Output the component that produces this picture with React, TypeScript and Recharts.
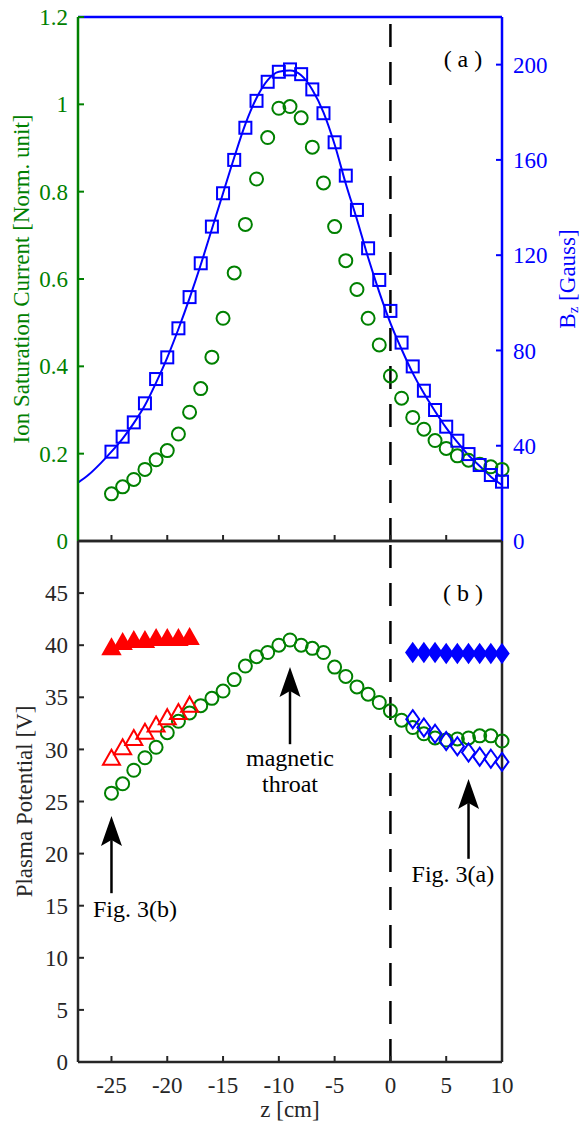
import React from 'react';
import {
  ComposedChart,
  Scatter,
  Line,
  XAxis,
  YAxis,
  ReferenceLine,
  ReferenceDot,
} from 'recharts';

const GREEN = '#008000';
const BLUE = '#0000ff';
const RED = '#ff0000';
const AXIS = '#262626';
const SERIF = '"Liberation Serif", "Times New Roman", serif';
const FONT = 23;
const NOTE_FONT = 24;

// axis ticks
const zTicks = [-25, -20, -15, -10, -5, 0, 5, 10];
const currentTicks = [0, 0.2, 0.4, 0.6, 0.8, 1, 1.2];
const bzTicks = [0, 40, 80, 120, 160, 200];
const potentialTicks = [0, 5, 10, 15, 20, 25, 30, 35, 40, 45];

// probe positions along the axis [cm]
const zProbe = [
  -25, -24, -23, -22, -21, -20, -19, -18, -17, -16, -15, -14, -13, -12, -11, -10, -9, -8,
  -7, -6, -5, -4, -3, -2, -1, 0, 1, 2, 3, 4, 5, 6, 7, 8, 9, 10,
];

// (a) ion saturation current, normalised
const ionCurrent = [
  0.108, 0.124, 0.141, 0.164, 0.186, 0.207, 0.245, 0.295, 0.349, 0.421, 0.51, 0.614,
  0.725, 0.829, 0.924, 0.991, 0.995, 0.969, 0.902, 0.82, 0.72, 0.642, 0.576, 0.51,
  0.449, 0.378, 0.327, 0.283, 0.256, 0.23, 0.212, 0.195, 0.185, 0.176, 0.17, 0.164,
];

// (a) measured Bz [Gauss]
const bzMeasured = [
  37.5, 43.8, 49.8, 57.8, 68, 77.1, 89.3, 102.4, 116.6, 132, 146, 160, 173.5, 184.8,
  192.8, 197, 198, 196, 189.6, 179.6, 167.4, 153.4, 139, 122.9, 109.6, 96.6, 83.3, 73.3,
  63.1, 55, 48, 42.1, 36.5, 31.9, 27.7, 24.9,
];

// (a) computed Bz curve [Gauss]
const zCurve = [
  -28, -27, -26, -25, -24, -23, -22, -21, -20, -19, -18, -17, -16, -15, -14, -13, -12, -11,
  -10, -9, -8, -7, -6, -5, -4, -3, -2, -1, 0, 1, 2, 3, 4, 5, 6, 7, 8, 9, 10,
];
const bzCurve = [
  24.5, 28, 32.5, 37.5, 43, 49.5, 57, 66.5, 77, 89, 102, 116, 131, 146, 161, 175, 186,
  193.5, 197, 197.5, 195.5, 189.5, 180, 166.5, 150, 135, 119, 104.5, 91.5, 80.5, 70.5, 62,
  54.5, 47.5, 41.5, 36, 31.5, 27, 23.5,
];

// (b) plasma potential [V]
const plasmaPotential = [
  25.8, 26.7, 28.0, 29.2, 30.2, 31.6, 32.7, 33.5, 34.2, 34.9, 35.6, 36.7, 38.0, 38.9, 39.3,
  40.0, 40.5, 40.0, 39.7, 39.3, 37.9, 37.0, 36.0, 35.3, 34.5, 33.7, 32.8, 32.1, 31.5, 31.1,
  30.9, 31.0, 31.1, 31.3, 31.3, 30.8,
];

// (b) upstream set, Fig. 3(b)
const zUpstream = [-25, -24, -23, -22, -21, -20, -19, -18];
const upstreamFilled = [39.7, 40.2, 40.4, 40.4, 40.6, 40.6, 40.6, 40.7];
const upstreamHollow = [29.1, 30.1, 31.0, 31.6, 32.3, 33.0, 33.5, 34.2];

// (b) downstream set, Fig. 3(a)
const zDownstream = [2, 3, 4, 5, 6, 7, 8, 9, 10];
const downstreamFilled = [39.3, 39.3, 39.3, 39.2, 39.2, 39.2, 39.2, 39.2, 39.2];
const downstreamHollow = [32.9, 32.1, 31.5, 30.8, 30.3, 29.7, 29.3, 29.1, 28.8];

const pts = (zs: number[], vs: number[]) => zs.map((z, i) => ({ z, v: vs[i] }));

// markers
const HollowCircle = (p: any) => (
  <circle cx={p.cx} cy={p.cy} r={6.5} fill="none" stroke={GREEN} strokeWidth={2} />
);
const HollowSquare = (p: any) => (
  <rect x={p.cx - 6} y={p.cy - 6} width={12} height={12} fill="none" stroke={BLUE} strokeWidth={2} />
);
const triangle = (filled: boolean) => (p: any) => (
  <polygon
    points={`${p.cx},${p.cy - 9} ${p.cx + 8.5},${p.cy + 6} ${p.cx - 8.5},${p.cy + 6}`}
    fill={filled ? RED : 'none'}
    stroke={RED}
    strokeWidth={2}
  />
);
const diamond = (filled: boolean) => (p: any) => (
  <polygon
    points={`${p.cx},${p.cy - 9} ${p.cx + 6.5},${p.cy} ${p.cx},${p.cy + 9} ${p.cx - 6.5},${p.cy}`}
    fill={filled ? BLUE : 'none'}
    stroke={BLUE}
    strokeWidth={2}
  />
);

// arrow from tail (first point) up to tip (second point)
const Arrow = (p: any) => {
  const { x1, y1, x2, y2 } = p;
  const head = 30;
  const half = 10.5;
  const notch = 6;
  return (
    <g>
      <line x1={x1} y1={y1} x2={x2} y2={y2 + head - notch} stroke="#000" strokeWidth={2.5} />
      <polygon
        points={`${x2},${y2} ${x2 + half},${y2 + head} ${x2},${y2 + head - notch} ${x2 - half},${y2 + head}`}
        fill="#000"
      />
    </g>
  );
};

const note = (lines: string[]) => (p: any) => (
  <text x={p.cx} y={p.cy} textAnchor="middle" fontFamily={SERIF} fontSize={NOTE_FONT} fill="#000">
    {lines.map((l, i) => (
      <tspan key={i} x={p.cx} dy={i === 0 ? 0 : 26}>
        {l}
      </tspan>
    ))}
  </text>
);

const sideLabel = (content: React.ReactNode, color: string, dx: number) => (props: any) => {
  const vb = props.viewBox;
  const x = vb.x + dx;
  const y = vb.y + vb.height / 2;
  return (
    <text
      x={x}
      y={y}
      transform={`rotate(-90 ${x} ${y})`}
      textAnchor="middle"
      dominantBaseline="central"
      fontFamily={SERIF}
      fontSize={FONT}
      fill={color}
    >
      {content}
    </text>
  );
};

const bottomLabel = (props: any) => {
  const vb = props.viewBox;
  return (
    <text x={vb.x + vb.width / 2} y={vb.y + 55} textAnchor="middle" fontFamily={SERIF} fontSize={FONT} fill={AXIS}>
      z [cm]
    </text>
  );
};

const blank = () => '';
const tickFont = (color: string) => ({ fill: color, fontSize: FONT, fontFamily: SERIF });
const axisLine = (color: string) => ({ stroke: color, strokeWidth: 2.5 });
const tickLine = (color: string) => ({ stroke: color, strokeWidth: 2 });

export default function App() {
  const ionData = pts(zProbe, ionCurrent);
  const bzData = pts(zProbe, bzMeasured);
  const curveData = pts(zCurve, bzCurve);
  const potentialData = pts(zProbe, plasmaPotential);

  return (
    <div style={{ position: 'absolute', left: 0, top: 0, width: 586, height: 1127, background: '#fff' }}>
      {/* (a) ion saturation current and Bz */}
      <div style={{ position: 'absolute', left: 0, top: 0 }}>
        <ComposedChart width={586} height={560} margin={{ top: 0, right: 4, bottom: 0, left: 8 }}>
          <XAxis
            xAxisId="bottom"
            type="number"
            dataKey="z"
            domain={[-28, 10]}
            ticks={zTicks}
            height={19}
            tickSize={-6}
            tickFormatter={blank}
            axisLine={axisLine(AXIS)}
            tickLine={tickLine(AXIS)}
          />
          <XAxis
            xAxisId="top"
            orientation="top"
            type="number"
            dataKey="z"
            domain={[-28, 10]}
            ticks={zTicks}
            height={17}
            tickSize={-6}
            tickFormatter={blank}
            axisLine={axisLine(BLUE)}
            tickLine={tickLine(BLUE)}
          />
          <YAxis
            yAxisId="I"
            orientation="left"
            type="number"
            domain={[0, 1.2]}
            ticks={currentTicks}
            width={70}
            tickSize={-6}
            tickMargin={16}
            tick={tickFont(GREEN)}
            axisLine={axisLine(GREEN)}
            tickLine={tickLine(GREEN)}
            label={{ content: sideLabel('Ion Saturation Current [Norm. unit]', GREEN, 13) }}
          />
          <YAxis
            yAxisId="B"
            orientation="right"
            type="number"
            domain={[0, 220]}
            ticks={bzTicks}
            width={80}
            tickSize={-6}
            tickMargin={17}
            tick={tickFont(BLUE)}
            axisLine={axisLine(BLUE)}
            tickLine={tickLine(BLUE)}
            label={{
              content: sideLabel(
                <>
                  B
                  <tspan dy={6} fontSize={15}>
                    z
                  </tspan>
                  <tspan dy={-6}>{'  [Gauss]'}</tspan>
                </>,
                BLUE,
                65
              ),
            }}
          />
          <ReferenceLine
            x={0}
            xAxisId="bottom"
            yAxisId="I"
            stroke="#000"
            strokeWidth={2.5}
            strokeDasharray="23 15"
          />
          <Scatter
            data={ionData}
            dataKey="v"
            xAxisId="bottom"
            yAxisId="I"
            shape={HollowCircle}
            isAnimationActive={false}
          />
          <Scatter
            data={bzData}
            dataKey="v"
            xAxisId="bottom"
            yAxisId="B"
            shape={HollowSquare}
            isAnimationActive={false}
          />
          <Line
            data={curveData}
            dataKey="v"
            xAxisId="bottom"
            yAxisId="B"
            type="monotone"
            stroke={BLUE}
            strokeWidth={2}
            dot={false}
            isAnimationActive={false}
          />
          <ReferenceDot x={6.5} y={1.085} xAxisId="bottom" yAxisId="I" shape={note(['( a )'])} />
        </ComposedChart>
      </div>

      {/* (b) plasma potential */}
      <div style={{ position: 'absolute', left: 0, top: 531 }}>
        <ComposedChart width={586} height={596} margin={{ top: 0, right: 4, bottom: 0, left: 8 }}>
          <XAxis
            xAxisId="bottom"
            type="number"
            dataKey="z"
            domain={[-28, 10]}
            ticks={zTicks}
            height={65}
            tickSize={-6}
            tickMargin={21}
            tick={tickFont(AXIS)}
            axisLine={axisLine(AXIS)}
            tickLine={tickLine(AXIS)}
            label={{ content: bottomLabel }}
          />
          <XAxis
            xAxisId="top"
            orientation="top"
            type="number"
            dataKey="z"
            domain={[-28, 10]}
            ticks={zTicks}
            height={10}
            tickSize={-6}
            tickFormatter={blank}
            axisLine={axisLine(AXIS)}
            tickLine={tickLine(AXIS)}
          />
          <YAxis
            yAxisId="V"
            orientation="left"
            type="number"
            domain={[0, 50]}
            ticks={potentialTicks}
            width={70}
            tickSize={-6}
            tickMargin={16}
            tick={tickFont(AXIS)}
            axisLine={axisLine(AXIS)}
            tickLine={tickLine(AXIS)}
            label={{ content: sideLabel('Plasma Potential [V]', AXIS, 16) }}
          />
          <YAxis
            yAxisId="Vr"
            orientation="right"
            type="number"
            domain={[0, 50]}
            ticks={potentialTicks}
            width={80}
            tickSize={-6}
            tickFormatter={blank}
            axisLine={axisLine(AXIS)}
            tickLine={tickLine(AXIS)}
          />
          <ReferenceLine
            x={0}
            xAxisId="bottom"
            yAxisId="V"
            stroke="#000"
            strokeWidth={2.5}
            strokeDasharray="23 15"
          />
          <Scatter
            data={potentialData}
            dataKey="v"
            xAxisId="bottom"
            yAxisId="V"
            shape={HollowCircle}
            isAnimationActive={false}
          />
          <Scatter
            data={pts(zUpstream, upstreamHollow)}
            dataKey="v"
            xAxisId="bottom"
            yAxisId="V"
            shape={triangle(false)}
            isAnimationActive={false}
          />
          <Scatter
            data={pts(zUpstream, upstreamFilled)}
            dataKey="v"
            xAxisId="bottom"
            yAxisId="V"
            shape={triangle(true)}
            isAnimationActive={false}
          />
          <Scatter
            data={pts(zDownstream, downstreamHollow)}
            dataKey="v"
            xAxisId="bottom"
            yAxisId="V"
            shape={diamond(false)}
            isAnimationActive={false}
          />
          <Scatter
            data={pts(zDownstream, downstreamFilled)}
            dataKey="v"
            xAxisId="bottom"
            yAxisId="V"
            shape={diamond(true)}
            isAnimationActive={false}
          />
          <ReferenceLine
            xAxisId="bottom"
            yAxisId="V"
            segment={[{ x: -9, y: 30.5 }, { x: -9, y: 37.9 }]}
            shape={Arrow}
          />
          <ReferenceLine
            xAxisId="bottom"
            yAxisId="V"
            segment={[{ x: -25, y: 16.2 }, { x: -25, y: 23.6 }]}
            shape={Arrow}
          />
          <ReferenceLine
            xAxisId="bottom"
            yAxisId="V"
            segment={[{ x: 7, y: 19.5 }, { x: 7, y: 27.15 }]}
            shape={Arrow}
          />
          <ReferenceDot x={-9} y={28.4} xAxisId="bottom" yAxisId="V" shape={note(['magnetic', 'throat'])} />
          <ReferenceDot x={-22.9} y={13.9} xAxisId="bottom" yAxisId="V" shape={note(['Fig. 3(b)'])} />
          <ReferenceDot x={5.6} y={17.3} xAxisId="bottom" yAxisId="V" shape={note(['Fig. 3(a)'])} />
          <ReferenceDot x={6.5} y={44.2} xAxisId="bottom" yAxisId="V" shape={note(['( b )'])} />
        </ComposedChart>
      </div>
    </div>
  );
}
